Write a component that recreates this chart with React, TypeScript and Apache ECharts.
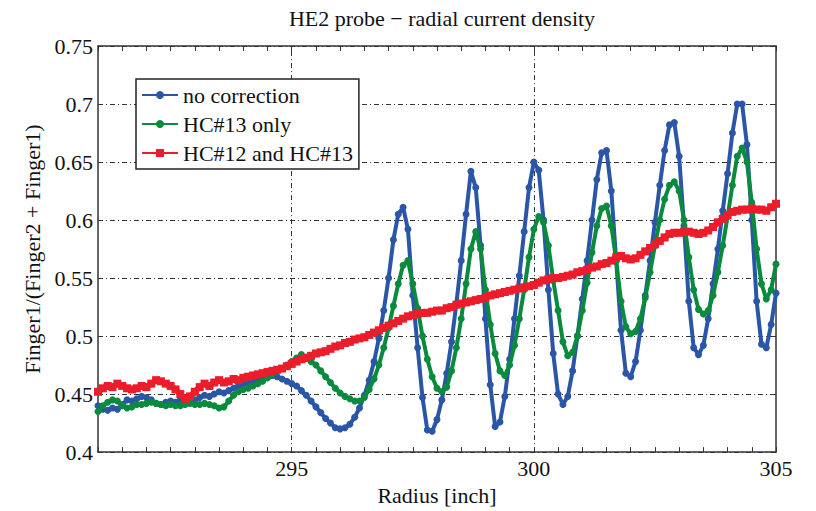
import React, { useEffect, useRef } from "react";
import * as echarts from "echarts";

const FONT = "Liberation Serif";

const titleText = "HE2 probe \u2212 radial current density";
const xAxisName = "Radius [inch]";
const yAxisName = "Finger1/(Finger2 + Finger1)";
const seriesNames = ["no correction", "HC#13 only", "HC#12 and HC#13"];
const seriesColors = ["#2b55a6", "#0a8a3d", "#ec1c2b"];

const radiusMin = 291;
const radiusMax = 305;
const radiusStep = 0.1;
const verticalGridValues = [295, 300];
const yMin = 0.4;
const yMax = 0.75;

// no correction (blue)
const noCorrection = [
  0.440, 0.437, 0.436, 0.438, 0.437, 0.441, 0.445, 0.444, 0.446, 0.448,
  0.447, 0.445, 0.442, 0.441, 0.443, 0.444, 0.443, 0.445, 0.446, 0.444,
  0.445, 0.447, 0.449, 0.448, 0.450, 0.452, 0.451, 0.453, 0.455, 0.457,
  0.459, 0.460, 0.462, 0.463, 0.464, 0.465, 0.466, 0.465, 0.463, 0.461,
  0.459, 0.457, 0.453, 0.449, 0.444, 0.439, 0.434, 0.429, 0.425, 0.421,
  0.420, 0.421, 0.424, 0.430, 0.438, 0.449, 0.462, 0.478, 0.498, 0.522,
  0.550, 0.583, 0.605, 0.611, 0.592, 0.535, 0.490, 0.447, 0.419, 0.418,
  0.428, 0.445, 0.468, 0.495, 0.528, 0.565, 0.605, 0.642, 0.628, 0.578,
  0.515, 0.458, 0.422, 0.426, 0.448, 0.480, 0.515, 0.552, 0.590, 0.628,
  0.650, 0.643, 0.600, 0.540, 0.485, 0.450, 0.441, 0.448, 0.470, 0.500,
  0.532, 0.565, 0.600, 0.635, 0.658, 0.660, 0.625, 0.565, 0.505, 0.468,
  0.465, 0.478, 0.505, 0.535, 0.565, 0.598, 0.630, 0.660, 0.682, 0.684,
  0.655, 0.595, 0.530, 0.490, 0.484, 0.492, 0.515, 0.545, 0.575, 0.608,
  0.640, 0.675, 0.700, 0.700, 0.665, 0.600, 0.530, 0.493, 0.490, 0.510,
  0.537,
];

// HC#13 only (green)
const hc13Only = [
  0.435, 0.440, 0.443, 0.445, 0.444, 0.440, 0.438, 0.439, 0.441, 0.441,
  0.442, 0.443, 0.442, 0.441, 0.440, 0.441, 0.440, 0.440, 0.441, 0.442,
  0.441, 0.441, 0.442, 0.441, 0.440, 0.438, 0.439, 0.444, 0.449, 0.452,
  0.454, 0.455, 0.457, 0.459, 0.461, 0.464, 0.467, 0.470, 0.472, 0.475,
  0.478, 0.481, 0.484, 0.482, 0.478, 0.475, 0.470, 0.465, 0.460, 0.455,
  0.451, 0.448, 0.446, 0.444, 0.444, 0.447, 0.454, 0.463, 0.475, 0.490,
  0.507, 0.526, 0.545, 0.561, 0.565, 0.545, 0.524, 0.500, 0.480, 0.465,
  0.455, 0.452, 0.456, 0.470, 0.490, 0.515, 0.545, 0.575, 0.590, 0.575,
  0.540, 0.510, 0.485, 0.470, 0.466, 0.475, 0.492, 0.515, 0.540, 0.568,
  0.592, 0.603, 0.598, 0.578, 0.548, 0.522, 0.495, 0.483, 0.486, 0.500,
  0.522, 0.546, 0.572, 0.595, 0.610, 0.612, 0.595, 0.565, 0.530, 0.508,
  0.502, 0.504, 0.515, 0.533, 0.555, 0.578, 0.600, 0.618, 0.630, 0.633,
  0.625, 0.600, 0.568, 0.540, 0.523, 0.519, 0.522, 0.535, 0.555, 0.578,
  0.603, 0.630, 0.655, 0.662, 0.650, 0.615, 0.575, 0.545, 0.532, 0.540,
  0.562,
];

// HC#12 and HC#13 (red)
const hc12and13 = [
  0.452, 0.455, 0.457, 0.456, 0.459, 0.457, 0.455, 0.454, 0.455, 0.457,
  0.456, 0.459, 0.462, 0.461, 0.459, 0.457, 0.454, 0.450, 0.446, 0.448,
  0.452, 0.456, 0.459, 0.457, 0.460, 0.462, 0.460, 0.461, 0.463, 0.462,
  0.464, 0.465, 0.466, 0.467, 0.468, 0.469, 0.470, 0.471, 0.472, 0.474,
  0.476, 0.478, 0.480, 0.481, 0.483, 0.485, 0.486, 0.487, 0.489, 0.491,
  0.492, 0.494, 0.495, 0.497, 0.498, 0.499, 0.501, 0.503, 0.505, 0.507,
  0.509, 0.511, 0.513, 0.515, 0.517, 0.518, 0.519, 0.520, 0.520, 0.521,
  0.522, 0.522, 0.524, 0.525, 0.527, 0.528, 0.529, 0.530, 0.531, 0.532,
  0.533, 0.535, 0.536, 0.537, 0.538, 0.539, 0.540, 0.541, 0.542, 0.543,
  0.544, 0.546, 0.548, 0.549, 0.550, 0.550, 0.551, 0.552, 0.553, 0.555,
  0.556, 0.557, 0.559, 0.560, 0.562, 0.563, 0.565, 0.568, 0.569, 0.567,
  0.566, 0.567, 0.570, 0.573, 0.576, 0.579, 0.582, 0.585, 0.588, 0.589,
  0.589, 0.590, 0.590, 0.589, 0.588, 0.589, 0.591, 0.594, 0.598, 0.601,
  0.604, 0.607, 0.608, 0.609, 0.609, 0.610, 0.609, 0.609, 0.608, 0.611,
  0.614,
];

const radius = noCorrection.map((_, i) => +(radiusMin + i * radiusStep).toFixed(1));
const seriesValues = [noCorrection, hc13Only, hc12and13];

const gridLineStyle = { color: "#333", width: 1, type: [5, 3, 1, 3] as number[] };
const axisColor = "#333";

export default function App() {
  const ref = useRef<HTMLDivElement>(null);
  useEffect(() => {
    if (!ref.current) return;
    const chart = echarts.init(ref.current, null, { renderer: "svg" });
    const series: any[] = seriesValues.map((vals, si) => ({
      name: seriesNames[si],
      type: "line",
      xAxisIndex: 0,
      yAxisIndex: 0,
      data: radius.map((x, i) => [x, vals[i]]),
      symbol: si === 2 ? "rect" : "circle",
      symbolSize: si === 2 ? 8 : 7,
      showSymbol: true,
      lineStyle: { color: seriesColors[si], width: si === 2 ? 6 : 4 },
      itemStyle: { color: seriesColors[si] },
      z: 3 + si,
    }));
    series.unshift({
      name: "__grid",
      type: "line",
      data: [],
      z: 1,
      silent: true,
      markLine: {
        silent: true,
        symbol: "none",
        z: 1,
        label: { show: false },
        lineStyle: gridLineStyle,
        data: verticalGridValues.map((v) => ({ xAxis: v })),
      },
    });
    const option: any = {
      animation: false,
      backgroundColor: "#fff",
      textStyle: { fontFamily: FONT },
      title: {
        text: titleText,
        left: 437,
        top: 2,
        textAlign: "center",
        textStyle: { fontFamily: FONT, fontSize: 22, fontWeight: "normal", color: "#111" },
      },
      legend: {
        data: seriesNames,
        orient: "vertical",
        left: 136,
        top: 79,
        backgroundColor: "#fff",
        borderColor: "#222",
        borderWidth: 1.5,
        padding: [5, 6, 5, 5],
        itemGap: 7,
        itemWidth: 36,
        itemHeight: 10,
        textStyle: { fontFamily: FONT, fontSize: 22, color: "#111" },
      },
      grid: { left: 98, right: 40, top: 46, bottom: 45, containLabel: false },
      xAxis: [
        {
          type: "value",
          min: radiusMin,
          max: radiusMax,
          interval: 0.5,
          name: xAxisName,
          nameLocation: "middle",
          nameGap: 22,
          nameTextStyle: { fontFamily: FONT, fontSize: 22, color: "#111" },
          axisLine: { show: true, lineStyle: { color: axisColor, width: 1.5 } },
          axisTick: { show: true, inside: true, length: 5, lineStyle: { color: axisColor } },
          axisLabel: {
            fontFamily: FONT,
            fontSize: 22,
            color: "#111",
            margin: 5,
            formatter: (v: number) => (Math.abs(v % 5) < 1e-6 ? String(v) : ""),
          },
          splitLine: { show: false },
        },
        {
          type: "value",
          position: "top",
          min: radiusMin,
          max: radiusMax,
          interval: 0.5,
          axisLine: { show: true, lineStyle: { color: axisColor, width: 1.5 } },
          axisTick: { show: true, inside: true, length: 5, lineStyle: { color: axisColor } },
          axisLabel: { show: false },
          splitLine: { show: false },
        },
      ],
      yAxis: [
        {
          type: "value",
          min: yMin,
          max: yMax,
          interval: 0.05,
          name: yAxisName,
          nameLocation: "middle",
          nameGap: 54,
          nameTextStyle: { fontFamily: FONT, fontSize: 22, color: "#111" },
          axisLine: { show: true, lineStyle: { color: axisColor, width: 1.5 } },
          axisTick: { show: true, inside: true, length: 5, lineStyle: { color: axisColor } },
          axisLabel: {
            fontFamily: FONT,
            fontSize: 22,
            color: "#111",
            margin: 5,
            formatter: (v: number) => String(+v.toFixed(2)),
          },
          splitLine: { show: true, lineStyle: gridLineStyle },
        },
        {
          type: "value",
          position: "right",
          min: yMin,
          max: yMax,
          interval: 0.05,
          axisLine: { show: true, lineStyle: { color: axisColor, width: 1.5 } },
          axisTick: { show: true, inside: true, length: 5, lineStyle: { color: axisColor } },
          axisLabel: { show: false },
          splitLine: { show: false },
        },
      ],
      series,
    };
    chart.setOption(option);
    return () => chart.dispose();
  }, []);
  return (
    <div
      ref={ref}
      style={{ position: "absolute", left: 0, top: 0, width: 816, height: 511, background: "#fff" }}
    />
  );
}
